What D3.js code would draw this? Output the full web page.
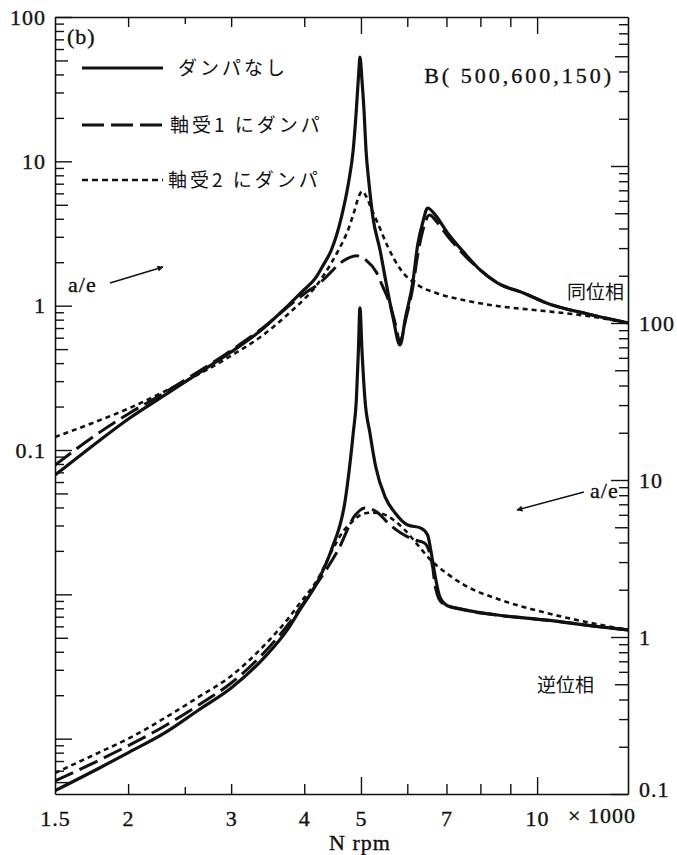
<!DOCTYPE html>
<html>
<head>
<meta charset="utf-8">
<script src="https://cdn.jsdelivr.net/npm/d3@7"></script>
<style>
  body { margin: 0; background: #fff; }
  svg text { fill: #111; }
  .num { font-family: "Liberation Serif", "DejaVu Serif", serif; font-size: 22px; letter-spacing: 1px; stroke: #111; stroke-width: 0.35px; }
  .jp { font-family: "Noto Sans CJK JP", sans-serif; font-size: 19px; }
</style>
</head>
<body>
<svg id="chart" width="677" height="855"></svg>
<script>
// N (x1000 rpm) , a/e
// 同位相 (upper curves, left axis)
const upperNoDamper = [[1.5,0.067],[1.79,0.117],[2.01,0.166],[2.31,0.240],[2.64,0.341],[3.0,0.478],[3.41,0.700],[3.76,1.01],[3.99,1.28],[4.18,1.55],[4.31,1.91],[4.45,2.43],[4.63,4.11],[4.76,7.08],[4.85,12.0],[4.91,22.7],[4.96,43],[4.98,52.8],[5.02,36.6],[5.06,22.7],[5.10,12.0],[5.16,7.08],[5.24,4.11],[5.39,2.43],[5.52,1.44],[5.67,0.835],[5.83,0.534],[5.96,0.835],[6.13,1.44],[6.25,2.63],[6.38,3.80],[6.50,4.75],[6.68,4.31],[7.03,3.19],[7.51,2.32],[7.99,1.77],[8.55,1.44],[9.5,1.22],[10.4,1.04],[12.2,0.876],[14.3,0.76]];
const upperDamper1 = [[1.5,0.0787],[1.79,0.133],[2.01,0.18],[2.31,0.25],[2.64,0.35],[3.0,0.49],[3.41,0.71],[3.76,0.99],[3.99,1.2],[4.28,1.47],[4.45,1.72],[4.57,1.92],[4.72,2.1],[4.91,2.22],[5.10,2.07],[5.31,1.71],[5.45,1.35],[5.61,1.01],[5.73,0.735],[5.83,0.56],[5.96,0.796],[6.13,1.33],[6.25,2.24],[6.38,3.34],[6.55,4.25],[6.74,3.80],[7.03,3.04],[7.51,2.24],[7.99,1.77],[8.55,1.44],[9.5,1.22],[10.4,1.04],[12.2,0.876],[14.3,0.76]];
const upperDamper2 = [[1.5,0.123],[1.79,0.161],[2.01,0.195],[2.31,0.255],[2.64,0.335],[3.0,0.45],[3.41,0.63],[3.76,0.88],[3.99,1.1],[4.18,1.35],[4.35,1.7],[4.57,2.4],[4.76,3.4],[4.87,4.5],[4.96,5.75],[5.02,6.2],[5.10,5.75],[5.22,4.60],[5.35,3.68],[5.56,2.55],[5.85,1.77],[6.25,1.39],[6.74,1.22],[7.51,1.09],[8.55,0.995],[10.3,0.918],[12.2,0.848],[14.3,0.76]];

// 逆位相 (lower curves, right axis)
const lowerNoDamper = [[1.5,0.105],[1.79,0.147],[2.01,0.185],[2.31,0.245],[2.64,0.343],[3.0,0.473],[3.41,0.734],[3.76,1.14],[3.91,1.44],[4.23,2.31],[4.45,3.58],[4.70,7.46],[4.85,19.9],[4.91,32.4],[4.95,67],[4.98,125],[5.02,67],[5.08,32.4],[5.18,19.9],[5.30,12.1],[5.50,7.79],[5.72,6.17],[6.01,5.17],[6.33,4.94],[6.50,4.46],[6.58,3.58],[6.68,2.56],[6.82,1.80],[7.03,1.58],[7.51,1.49],[8.55,1.38],[10.4,1.28],[12.6,1.17],[14.3,1.11]];
const lowerDamper1 = [[1.5,0.121],[1.79,0.165],[2.01,0.205],[2.31,0.271],[2.64,0.369],[3.0,0.509],[3.41,0.791],[3.76,1.21],[4.02,1.72],[4.28,2.41],[4.57,3.58],[4.89,5.98],[5.08,6.63],[5.35,6.17],[5.56,5.32],[5.85,4.59],[6.18,4.15],[6.42,3.97],[6.55,3.43],[6.63,2.79],[6.70,2.08],[6.88,1.65],[7.51,1.49],[8.55,1.38],[10.4,1.28],[12.6,1.17],[14.3,1.11]];
const lowerDamper2 = [[1.5,0.136],[1.79,0.185],[2.01,0.227],[2.31,0.305],[2.64,0.415],[3.0,0.565],[3.41,0.877],[3.76,1.32],[3.91,1.60],[4.23,2.38],[4.45,3.48],[4.66,4.7],[4.85,5.5],[5.04,6.1],[5.24,6.2],[5.45,6.07],[5.67,5.6],[5.94,4.81],[6.25,3.86],[6.58,3.09],[7.03,2.52],[7.51,2.14],[8.55,1.75],[9.75,1.51],[11.1,1.34],[12.6,1.21],[14.3,1.11]];

const xTicks = [2, 2.5, 3, 4, 5, 6, 7, 8, 9, 10];
const xLabels = [1.5, 2, 3, 4, 5, 7, 10];
const yLabels = [0.1, 1, 10, 100];
const legendNames = ["ダンパなし", "軸受1 にダンパ", "軸受2 にダンパ"];

const svg = d3.select("#chart");
const L = 55, R = 628, T = 17, B = 794;

const x = d3.scaleLog().domain([1.5, 14.3]).range([L, R]);
// left scale: 同位相, right scale: 逆位相
const yL = d3.scaleLog().domain([0.1, 100]).range([450, T]);
yL.domain([yL.invert(B), 100]).range([B, T]);
const yR = d3.scaleLog().domain([0.1, 100]).range([B, 323]);
yR.domain([0.1, yR.invert(T)]).range([B, T]);

function logTicks(scale) {
  const [a, b] = scale.domain();
  const out = [];
  for (let e = Math.floor(Math.log10(a)); e <= Math.ceil(Math.log10(b)); e++) {
    for (let m = 1; m <= 9; m++) {
      const v = +(m * Math.pow(10, e)).toPrecision(3);
      if (v >= a * 0.999 && v <= b * 1.001) out.push(v);
    }
  }
  return out;
}
function mant(v) {
  const e = Math.floor(Math.log10(v) + 1e-9);
  return Math.round(v / Math.pow(10, e) * 10) / 10;
}
function yTickLen(v) {
  const m = mant(v);
  return m === 1 ? 17 : (m === 5 ? 13 : 9);
}
function xTickLen(v) {
  return (v === 5 || v === 10) ? 17 : (v === 2.5 ? 7 : 10);
}

// left axis
const gL = svg.append("g").attr("transform", `translate(${L},0)`)
  .call(d3.axisLeft(yL).tickValues(logTicks(yL)).tickSizeOuter(0).tickPadding(3)
    .tickFormat(d => yLabels.includes(d) ? d3.format("~g")(d) : ""));
gL.selectAll(".tick line").attr("x2", d => yTickLen(d));

// right axis
const gR = svg.append("g").attr("transform", `translate(${R},0)`)
  .call(d3.axisRight(yR).tickValues(logTicks(yR)).tickSizeOuter(0).tickPadding(5)
    .tickFormat(d => yLabels.includes(d) ? d3.format("~g")(d) : ""));
gR.selectAll(".tick line").attr("x2", d => -yTickLen(d));

// bottom axis
const gB = svg.append("g").attr("transform", `translate(0,${B})`)
  .call(d3.axisBottom(x).tickValues([1.5].concat(xTicks)).tickSizeOuter(0).tickPadding(7)
    .tickFormat(d => xLabels.includes(d) ? d3.format("~g")(d) : ""));
gB.selectAll(".tick line").attr("y2", d => d === 1.5 ? 0 : -xTickLen(d));

// top axis
const gT = svg.append("g").attr("transform", `translate(0,${T})`)
  .call(d3.axisTop(x).tickValues(xTicks).tickSizeOuter(0).tickFormat(""));
gT.selectAll(".tick line").attr("y2", d => xTickLen(d));

[gL, gR, gB, gT].forEach(g => {
  g.attr("font-family", null).attr("font-size", null);
  g.select(".domain").attr("stroke", "#111").attr("stroke-width", 1.6);
  g.selectAll(".tick line").attr("stroke", "#111").attr("stroke-width", 1.4);
  g.selectAll(".tick text").attr("class", "num");
});
gB.selectAll(".tick text").attr("dy", "0.85em");
gR.selectAll(".tick text").filter(d => d === 0.1).attr("dy", "0.1em");

// curves
svg.append("clipPath").attr("id", "plot")
  .append("rect").attr("x", L).attr("y", T).attr("width", R - L).attr("height", B - T);

const lineL = d3.line().x(d => x(d[0])).y(d => yL(d[1])).curve(d3.curveMonotoneX);
const lineR = d3.line().x(d => x(d[0])).y(d => yR(d[1])).curve(d3.curveMonotoneX);

const styles = [
  { dash: null, w: 3.2 },
  { dash: "20,7", w: 3 },
  { dash: "5,4", w: 2.6 }
];
const curves = svg.append("g").attr("clip-path", "url(#plot)");
[[upperNoDamper, lineL, 0], [upperDamper1, lineL, 1], [upperDamper2, lineL, 2],
 [lowerNoDamper, lineR, 0], [lowerDamper1, lineR, 1], [lowerDamper2, lineR, 2]]
  .forEach(([data, gen, s]) => {
    curves.append("path").datum(data)
      .attr("d", gen)
      .attr("fill", "none")
      .attr("stroke", "#111")
      .attr("stroke-width", styles[s].w)
      .attr("stroke-dasharray", styles[s].dash)
      .attr("stroke-linejoin", "round");
  });

// legend
const legY = [68, 125, 180];
const legTx = [178, 170, 168];
legendNames.forEach((name, i) => {
  svg.append("line").attr("x1", 82).attr("x2", 163).attr("y1", legY[i]).attr("y2", legY[i])
    .attr("stroke", "#111").attr("stroke-width", styles[i].w)
    .attr("stroke-dasharray", i === 1 ? "22,7" : (i === 2 ? "6,4" : null));
  svg.append("text").attr("class", "jp").attr("x", legTx[i]).attr("y", legY[i])
    .attr("dy", "0.35em").style("letter-spacing", "3px").text(name);
});

// annotations
svg.append("text").attr("class", "num").attr("x", 67).attr("y", 36).attr("dy", "0.35em").text("(b)");
svg.append("text").attr("class", "num").attr("x", 614).attr("y", 75).attr("dy", "0.35em")
  .attr("text-anchor", "end").style("letter-spacing", "3px").text("B( 500,600,150)");
svg.append("text").attr("class", "jp").attr("x", 567).attr("y", 292).attr("dy", "0.35em").text("同位相");
svg.append("text").attr("class", "jp").attr("x", 537).attr("y", 685).attr("dy", "0.35em").text("逆位相");
svg.append("text").attr("class", "num").attr("x", 602).attr("y", 815).attr("dy", "0.35em")
  .attr("text-anchor", "middle").text("× 1000");
svg.append("text").attr("class", "num").attr("x", 360).attr("y", 842).attr("dy", "0.35em")
  .attr("text-anchor", "middle").text("N rpm");

svg.append("defs").append("marker").attr("id", "arr")
  .attr("viewBox", "0 0 10 10").attr("refX", 9).attr("refY", 5)
  .attr("markerWidth", 9).attr("markerHeight", 6).attr("markerUnits", "userSpaceOnUse")
  .attr("orient", "auto")
  .append("path").attr("d", "M0,0 L10,5 L0,10 Z").attr("fill", "#111");

svg.append("text").attr("class", "num").attr("x", 68).attr("y", 284).attr("dy", "0.35em").text("a/e");
svg.append("line").attr("x1", 110).attr("y1", 283).attr("x2", 163).attr("y2", 267)
  .attr("stroke", "#111").attr("stroke-width", 1.4).attr("marker-end", "url(#arr)");
svg.append("text").attr("class", "num").attr("x", 590).attr("y", 490).attr("dy", "0.35em").text("a/e");
svg.append("line").attr("x1", 584).attr("y1", 492).attr("x2", 517).attr("y2", 510)
  .attr("stroke", "#111").attr("stroke-width", 1.4).attr("marker-end", "url(#arr)");
</script>
</body>
</html>
